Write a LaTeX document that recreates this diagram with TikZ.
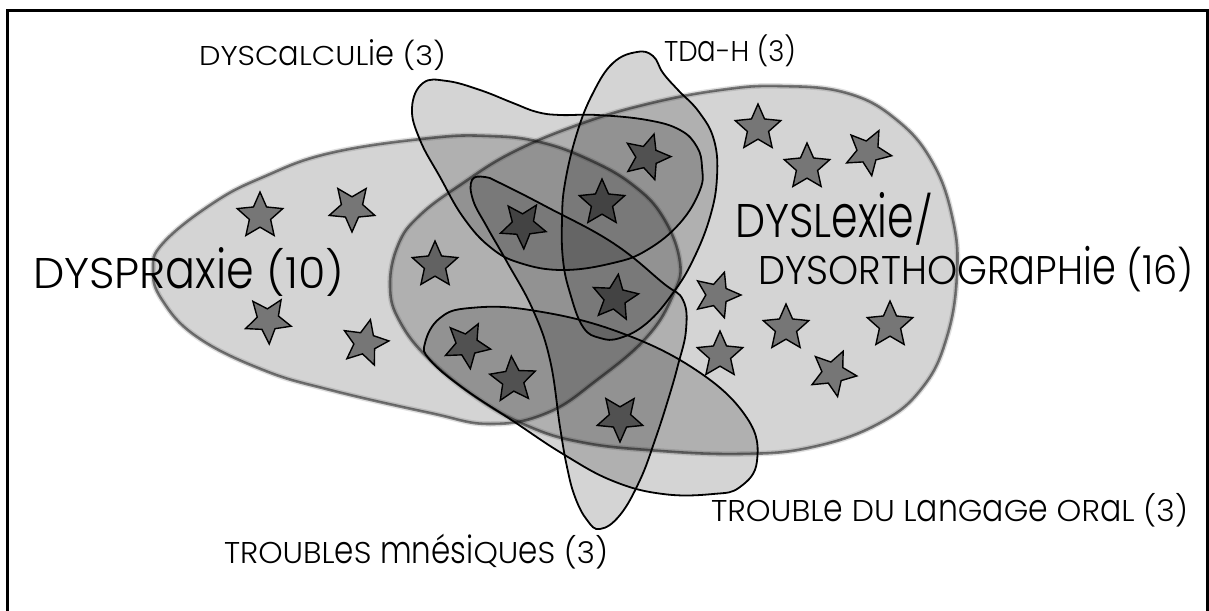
\documentclass[tikz,border=0pt]{standalone}
\usepackage{graphicx}
\usepackage{fontspec}
\setmainfont{Poppins Light}
\usetikzlibrary{shapes.geometric}
\definecolor{starfill}{HTML}{8F8F8F}
\newcommand{\lbl}[3]{\resizebox{#1pt}{#2pt}{\smash{#3}\vphantom{X}}}
\newcommand{\lw}[1]{\scalebox{1}[1.27]{#1}}
\tikzset{
  lab/.style={inner sep=0pt, outer sep=0pt, anchor=base west, font=\fontsize{20}{24}\selectfont},
  starnode/.style={star, star points=5, star point ratio=2.15, minimum size=48pt, inner sep=0pt,
    draw=black, line width=1.4pt, fill=starfill},
  blob/.style={fill=black, fill opacity=0.17, draw=black, line width=1.8pt},
  bigfill/.style={fill=black, fill opacity=0.17, draw=none},
  rimsoft/.style={draw=black, draw opacity=0.12, line width=5.5pt},
  rimcore/.style={draw=black, draw opacity=0.47, line width=2.6pt},
}
\begin{document}
\begin{tikzpicture}[x=1pt,y=-1pt]
\useasboundingbox (0,0) rectangle (1209,610);
% stars (under the shapes)
\node[starnode] (s1) at (260,216) {};
\node[starnode, rotate=-36] (s2) at (352,208) {};
\node[starnode, rotate=-33] (s3) at (268,320) {};
\node[starnode, rotate=-13] (s4) at (365,343) {};
\node[starnode] (s5) at (435,265) {};
\node[starnode, rotate=-17] (s6) at (647,157) {};
\node[starnode] (s7) at (602,203) {};
\node[starnode, rotate=-34] (s8) at (523,225) {};
\node[starnode, rotate=-8] (s9) at (615,298) {};
\node[starnode, rotate=-28] (s10) at (467,345) {};
\node[starnode, rotate=4] (s11) at (513,380) {};
\node[starnode, rotate=-36] (s12) at (620,418) {};
\node[starnode] (s13) at (758,128) {};
\node[starnode] (s14) at (807,167) {};
\node[starnode, rotate=-27] (s15) at (868,152) {};
\node[starnode, rotate=-18] (s16) at (717,295) {};
\node[starnode] (s17) at (720,355) {};
\node[starnode] (s18) at (786,328) {};
\node[starnode, rotate=-25] (s19) at (833,373) {};
\node[starnode] (s20) at (890,325) {};
% dyspraxie
\def\dyspraxie{plot[smooth cycle, tension=0.7] coordinates {(153,270) (163,243) (213,203) (263,177) (330,153) (430,138) (490,136) (540,142) (590,160) (633,185) (663,217) (680,262) (673,295) (647,337) (597,380) (547,413) (490,424) (430,413) (330,390) (263,370) (197,337) (162,300)}}
\path[bigfill] \dyspraxie;
\path[rimsoft] \dyspraxie;
\path[rimcore] \dyspraxie;
% dyslexie
\def\dyslexie{plot[smooth cycle, tension=0.7] coordinates {(390,287) (398,245) (420,215) (463,183) (513,152) (580,124) (647,104) (720,90) (780,86) (847,93) (897,120) (933,163) (953,220) (957,275) (947,337) (923,387) (880,423) (813,447) (740,454) (647,450) (580,442) (530,427) (480,400) (430,360) (400,322)}}
\path[bigfill] \dyslexie;
\path[rimsoft] \dyslexie;
\path[rimcore] \dyslexie;
% dyscalculie
\draw[blob] plot[smooth cycle, tension=0.7] coordinates {(423,83) (447,81) (480,90) (513,103) (537,112) (560,115) (597,115) (647,120) (680,130) (697,147) (702,167) (700,190) (680,223) (647,250) (613,263) (563,270) (520,263) (490,247) (463,217) (440,177) (420,140) (412,108)};
% TDA-H
\draw[blob] plot[smooth cycle, tension=0.7] coordinates {(637,52) (653,56) (663,73) (678,90) (699,112) (714,140) (717,177) (710,217) (693,260) (673,293) (647,323) (620,338) (600,338) (583,327) (570,293) (563,260) (562,220) (565,183) (577,133) (593,93) (613,63)};
% troubles mnesiques
\draw[blob] plot[smooth cycle, tension=0.7] coordinates {(472,180) (485,177) (500,183) (547,207) (613,243) (663,283) (683,300) (686,330) (678,365) (668,400) (655,440) (640,480) (620,515) (600,529) (587,520) (575,497) (567,467) (560,427) (550,360) (533,310) (507,262) (487,227) (473,200)};
% trouble du langage oral
\draw[blob] plot[smooth cycle, tension=0.7] coordinates {(425,343) (440,318) (470,308) (530,310) (616,331) (696,370) (747,418) (757,461) (740,487) (713,494) (663,494) (613,481) (563,454) (513,421) (463,388) (430,360)};
% labels
\node[lab] (lcalc) at (199,66) {\lbl{247}{19}{DYSC\lw{a}LCUL\lw{ie} (3)}};
\node[lab] (ltda) at (664,61) {\lbl{132}{20}{TD\lw{a}-H (3)}};
\node[lab] (lprax) at (33,288) {\lbl{311}{30}{DYSPR\lw{axie} (10)}};
\node[lab] (llex) at (735,237) {\lbl{198}{33}{DYSL\lw{exie}/}};
\node[lab] (lortho) at (758,284) {\lbl{436}{28}{DYSORTHOGR\lw{a}PH\lw{ie} (16)}};
\node[lab] (loral) at (711,521) {\lbl{477}{21}{TROUBL\lw{e} DU L\lw{an}G\lw{a}G\lw{e} OR\lw{a}L (3)}};
\node[lab] (lmnes) at (224,563) {\lbl{384}{21}{TROUBL\lw{e}S \lw{mnési}QU\lw{e}S (3)}};
% frame
\draw[line width=2.7pt] (7.5,640) -- (7.5,10.7) -- (1207.3,10.7) -- (1207.3,640);
\end{tikzpicture}
\end{document}
